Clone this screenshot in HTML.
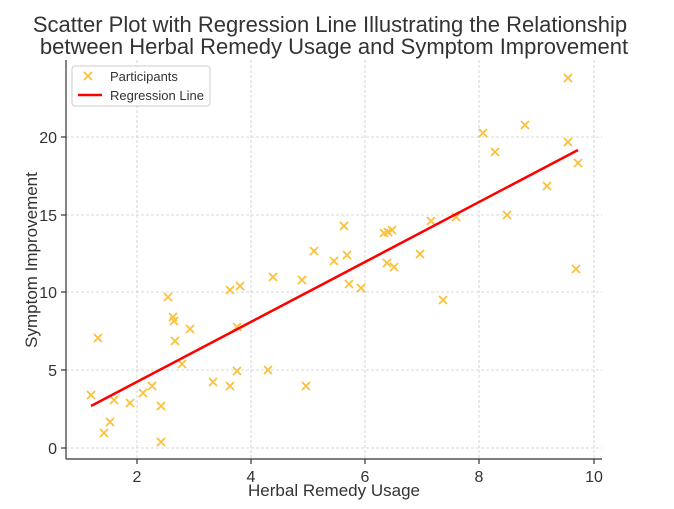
<!DOCTYPE html>
<html><head><style>body{margin:0;background:#fff}svg{display:block}text{font-family:"Liberation Sans","DejaVu Sans",sans-serif;fill:#333}</style></head><body>
<svg width="674" height="509" xmlns="http://www.w3.org/2000/svg">
<rect width="674" height="509" fill="#fff"/>
<text x="330" y="32" font-size="22" text-anchor="middle">Scatter Plot with Regression Line Illustrating the Relationship</text>
<text x="334" y="54" font-size="22" text-anchor="middle">between Herbal Remedy Usage and Symptom Improvement</text>
<g stroke="#ccc" stroke-dasharray="3,2" stroke-width="0.8">
<line x1="137" y1="60" x2="137" y2="459"/><line x1="251" y1="60" x2="251" y2="459"/><line x1="365" y1="60" x2="365" y2="459"/><line x1="479" y1="60" x2="479" y2="459"/><line x1="594" y1="60" x2="594" y2="459"/>
<line x1="66" y1="448" x2="602" y2="448"/><line x1="66" y1="370" x2="602" y2="370"/><line x1="66" y1="292" x2="602" y2="292"/><line x1="66" y1="215" x2="602" y2="215"/><line x1="66" y1="137" x2="602" y2="137"/>
</g>
<g stroke="#333" stroke-width="1.2">
<line x1="66" y1="60" x2="66" y2="459"/><line x1="66" y1="459" x2="602" y2="459"/>
<line x1="137" y1="459" x2="137" y2="464"/><line x1="251" y1="459" x2="251" y2="464"/><line x1="365" y1="459" x2="365" y2="464"/><line x1="479" y1="459" x2="479" y2="464"/><line x1="594" y1="459" x2="594" y2="464"/>
<line x1="61" y1="448" x2="66" y2="448"/><line x1="61" y1="370" x2="66" y2="370"/><line x1="61" y1="292" x2="66" y2="292"/><line x1="61" y1="215" x2="66" y2="215"/><line x1="61" y1="137" x2="66" y2="137"/>
</g>
<g font-size="16" text-anchor="middle">
<text x="137" y="482">2</text><text x="251" y="482">4</text><text x="365" y="482">6</text><text x="479" y="482">8</text><text x="594" y="482">10</text>
</g>
<g font-size="16" text-anchor="end">
<text x="57" y="454">0</text><text x="57" y="376">5</text><text x="57" y="298">10</text><text x="57" y="221">15</text><text x="57" y="143">20</text>
</g>
<text x="334" y="496" font-size="17" text-anchor="middle">Herbal Remedy Usage</text>
<text transform="translate(37,260) rotate(-90)" font-size="17" text-anchor="middle">Symptom Improvement</text>
<path stroke="#fbc13a" stroke-width="1.8" fill="none" d="
M87 391l8 8m0-8l-8 8 M94 334l8 8m0-8l-8 8 M100 429l8 8m0-8l-8 8 M106 418l8 8m0-8l-8 8 M110 396l8 8m0-8l-8 8
M126 399l8 8m0-8l-8 8 M139 389l8 8m0-8l-8 8 M148 382l8 8m0-8l-8 8 M157 402l8 8m0-8l-8 8 M157 438l8 8m0-8l-8 8
M164 293l8 8m0-8l-8 8 M169 313l8 8m0-8l-8 8 M170 317l8 8m0-8l-8 8 M171 337l8 8m0-8l-8 8 M186 325l8 8m0-8l-8 8
M178 360l8 8m0-8l-8 8 M209 378l8 8m0-8l-8 8 M226 382l8 8m0-8l-8 8 M226 286l8 8m0-8l-8 8 M233 323l8 8m0-8l-8 8
M233 367l8 8m0-8l-8 8 M236 282l8 8m0-8l-8 8 M264 366l8 8m0-8l-8 8 M269 273l8 8m0-8l-8 8 M298 276l8 8m0-8l-8 8
M302 382l8 8m0-8l-8 8 M330 257l8 8m0-8l-8 8 M345 280l8 8m0-8l-8 8 M357 284l8 8m0-8l-8 8 M310 247l8 8m0-8l-8 8
M340 222l8 8m0-8l-8 8 M343 251l8 8m0-8l-8 8 M380 229l8 8m0-8l-8 8 M384 228l8 8m0-8l-8 8 M388 226l8 8m0-8l-8 8
M383 259l8 8m0-8l-8 8 M390 263l8 8m0-8l-8 8 M416 250l8 8m0-8l-8 8 M427 217l8 8m0-8l-8 8 M439 296l8 8m0-8l-8 8
M452 213l8 8m0-8l-8 8 M479 129l8 8m0-8l-8 8 M491 148l8 8m0-8l-8 8 M503 211l8 8m0-8l-8 8 M521 121l8 8m0-8l-8 8
M543 182l8 8m0-8l-8 8 M564 74l8 8m0-8l-8 8 M564 138l8 8m0-8l-8 8 M574 159l8 8m0-8l-8 8 M572 265l8 8m0-8l-8 8"/>
<line x1="91" y1="406" x2="578" y2="150" stroke="#f00" stroke-width="2.5"/>
<rect x="72" y="66" width="138" height="40" rx="3" fill="#fff" fill-opacity="0.8" stroke="#ccc"/>
<path stroke="#fbc13a" stroke-width="1.8" d="M84 72l8 8m0-8l-8 8"/>
<line x1="78" y1="95" x2="102" y2="95" stroke="#f00" stroke-width="2.5"/>
<text x="110" y="81" font-size="13">Participants</text>
<text x="110" y="100" font-size="13">Regression Line</text>
</svg>
</body></html>
